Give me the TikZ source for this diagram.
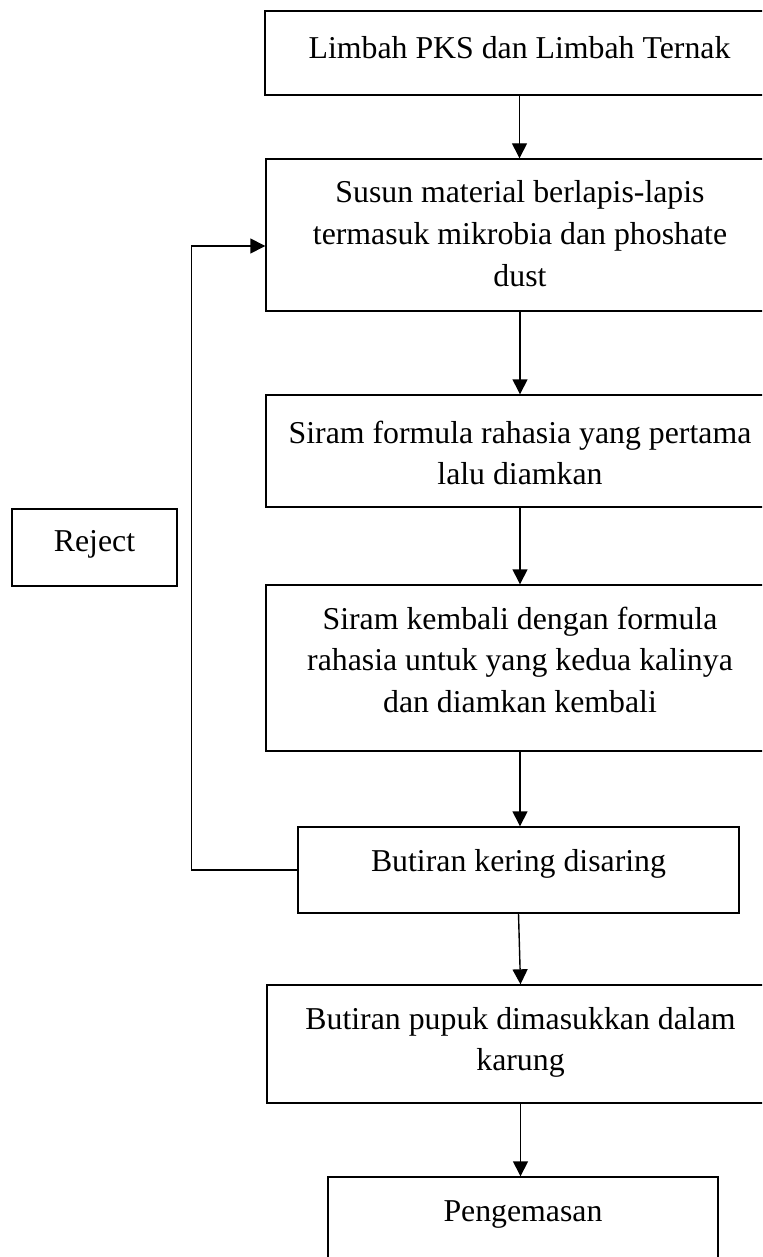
\documentclass[tikz,border=0pt]{standalone}
\usepackage{fontspec}
\setmainfont{Liberation Serif}
\usetikzlibrary{arrows.meta}
% text set from the top of a box
\newcommand{\steptext}[4][22pt]{\parbox[c][#3][t]{#2}{\centering\rule{0pt}{#1}#4}}

\begin{document}
\begin{tikzpicture}[x=0.5pt, y=-0.5pt,
  proc/.style={draw, line width=0.7pt, inner sep=0pt,
    font=\fontsize{15.9}{20.8}\selectfont},
  arr/.style={-{Triangle[length=7.5pt, width=7.5pt]}, line width=0.7pt},
]
  \useasboundingbox (0,0) rectangle (762,1257);
  \clip (0,0) rectangle (762,1257);

  % main column
  \node[proc] (waste) at (519.5, 53)
    {\steptext[24pt]{254.5pt}{42pt}{Limbah PKS dan Limbah Ternak}};
  \node[proc] (layer) at (520, 235)
    {\steptext{254pt}{76pt}{Susun material berlapis-lapis\\
      termasuk mikrobia dan phoshate\\ dust}};
  \node[proc] (spray1) at (520, 451)
    {\steptext[24pt]{254pt}{56pt}{Siram formula rahasia yang pertama\\
      lalu diamkan}};
  \node[proc] (spray2) at (520, 668)
    {\steptext{254pt}{83pt}{Siram kembali dengan formula\\
      rahasia untuk yang kedua kalinya\\ dan diamkan kembali}};
  \node[proc] (sieve) at (518.5, 870)
    {\steptext{220.5pt}{43pt}{Butiran kering disaring}};
  \node[proc] (bagging) at (520.5, 1044)
    {\steptext{253.5pt}{59pt}{Butiran pupuk dimasukkan dalam\\ karung}};
  \node[proc] (pack) at (523, 1221)
    {\steptext{195pt}{44pt}{Pengemasan}};

  % side box
  \node[proc] (reject) at (94.5, 547.5)
    {\steptext[21pt]{82.5pt}{38.5pt}{Reject}};

  % flow
  \draw[arr] (waste.south) -- (waste.south |- layer.north);
  \draw[arr] (layer.south) -- (layer.south |- spray1.north);
  \draw[arr] (spray1.south) -- (spray1.south |- spray2.north);
  \draw[arr] (spray2.south) -- (spray2.south |- sieve.north);
  \draw[arr] (sieve.south) -- (bagging.north);
  \draw[arr] (bagging.south) -- (bagging.south |- pack.north);

  % back to layering
  \draw[arr] (sieve.west) -- ++(-106,0) |- ([yshift=-5.5pt]layer.west);
\end{tikzpicture}
\end{document}
